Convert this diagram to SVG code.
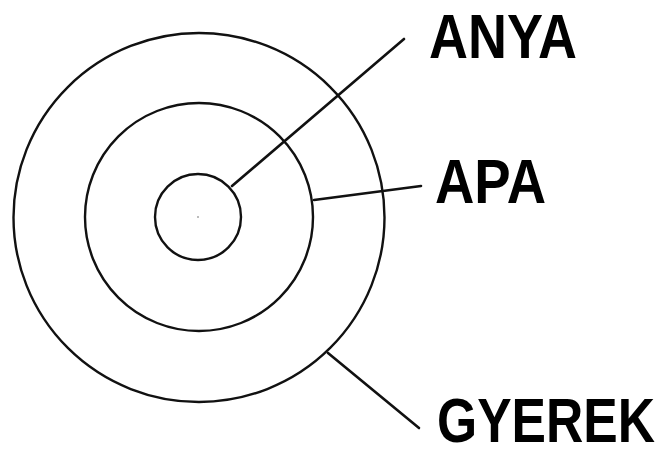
<svg xmlns="http://www.w3.org/2000/svg" width="662" height="450" viewBox="0 0 662 450">
<style>
.ring{fill:none;stroke:#111;stroke-width:2.4}
.conn{stroke:#111;stroke-width:2.6;stroke-linecap:round;fill:none}
.lbl{font-family:"Liberation Sans",Arial,sans-serif;font-weight:bold;font-size:63px;fill:#000}
</style>
<rect width="662" height="450" fill="#fff"/>
<g id="gyerek-ring"><ellipse class="ring" cx="199" cy="217.5" rx="185.5" ry="184.5"/></g>
<g id="apa-ring"><circle class="ring" cx="199" cy="217" r="114"/></g>
<g id="anya-ring"><circle class="ring" cx="198" cy="217" r="43"/><circle cx="198" cy="217" r="0.8" fill="#666"/></g>
<g id="connectors">
<line class="conn" x1="232" y1="186" x2="404" y2="39"/>
<line class="conn" x1="314" y1="200" x2="421" y2="186"/>
<line class="conn" x1="328" y1="353" x2="419" y2="428"/>
</g>
<g id="label-anya"><text class="lbl" x="429" y="58" textLength="148" lengthAdjust="spacingAndGlyphs">ANYA</text></g>
<g id="label-apa"><text class="lbl" x="435" y="203" textLength="111" lengthAdjust="spacingAndGlyphs">APA</text></g>
<g id="label-gyerek"><text class="lbl" x="437" y="442" textLength="218" lengthAdjust="spacingAndGlyphs">GYEREK</text></g>
</svg>
